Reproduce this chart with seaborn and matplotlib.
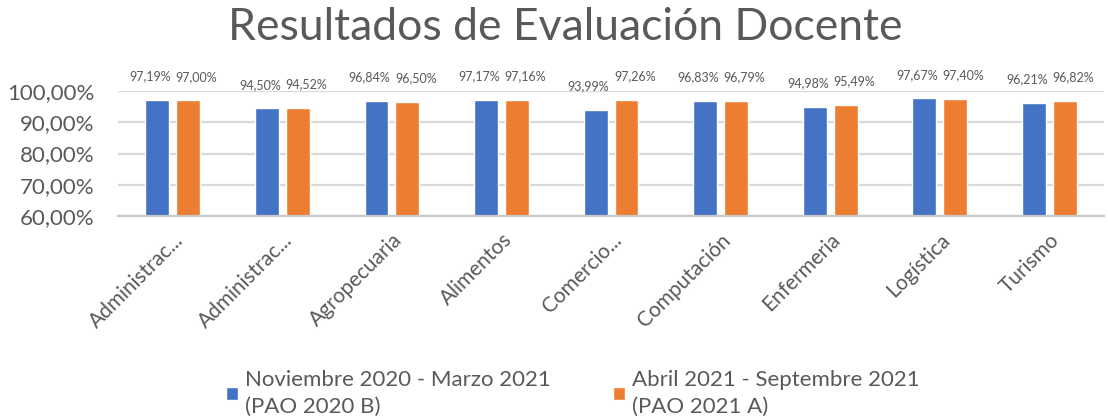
import pandas as pd
import matplotlib.pyplot as plt
import seaborn as sns
from matplotlib.ticker import FuncFormatter

# Datos
carreras = ['Administrac...', 'Administrac...', 'Agropecuaria', 'Alimentos', 'Comercio...',
            'Computación', 'Enfermeria', 'Logística', 'Turismo']
periodos = ['Noviembre 2020 - Marzo 2021\n(PAO 2020 B)',
            'Abril 2021 - Septembre 2021\n(PAO 2021 A)']
pao_2020b = [97.19, 94.50, 96.84, 97.17, 93.99, 96.83, 94.98, 97.67, 96.21]
pao_2021a = [97.00, 94.52, 96.50, 97.16, 97.26, 96.79, 95.49, 97.40, 96.82]

# las dos primeras etiquetas son iguales, asi que se usa un id por posicion
ids = [f'c{i}' for i in range(len(carreras))]
df = pd.DataFrame({
    'id': ids * 2,
    'valor': pao_2020b + pao_2021a,
    'periodo': [periodos[0]] * len(ids) + [periodos[1]] * len(ids),
})

gris = '#595959'
colores = ['#4472C4', '#ED7D31']

sns.set_style('white')
plt.rcParams['font.family'] = ['Lato', 'DejaVu Sans']

fig = plt.figure(figsize=(11.08, 4.2), dpi=100)
ax = fig.add_axes([0.1065, 0.486, 0.89, 0.297])

sns.barplot(data=df, x='id', y='valor', hue='periodo', palette=colores,
            width=0.564, gap=0.226, ax=ax, saturation=1)

ax.set_ylim(60, 100)
ax.set_yticks([60, 70, 80, 90, 100])
ax.yaxis.set_major_formatter(FuncFormatter(lambda v, p: f'{v:.2f}'.replace('.', ',') + '%'))
ax.grid(axis='y', color='#d9d9d9', linewidth=1.6)
ax.set_axisbelow(True)
for s in ['top', 'right', 'left']:
    ax.spines[s].set_visible(False)
ax.spines['bottom'].set_color('#c8c8c8')
ax.spines['bottom'].set_linewidth(1.6)

ax.tick_params(axis='y', length=0, pad=17, labelsize=16, labelcolor=gris)
ax.tick_params(axis='x', length=0, pad=10, labelsize=15, labelcolor=gris)
ax.set_xticks(range(len(carreras)))
ax.set_xticklabels(carreras, rotation=45, ha='right', rotation_mode='anchor')
ax.set_xlabel('')
ax.set_ylabel('')

# Etiquetas de valores
for k, cont in enumerate(ax.containers):
    dx = -5 if k == 0 else 6
    for bar in cont:
        h = bar.get_height()
        ax.annotate(f'{h:.2f}'.replace('.', ',') + '%',
                    (bar.get_x() + bar.get_width() / 2, h),
                    xytext=(dx, 17), textcoords='offset points',
                    ha='center', va='center', fontsize=9, color=gris)

ax.legend_.remove()
h, l = ax.get_legend_handles_labels()
leg = fig.legend(h, l, loc='center', bbox_to_anchor=(0.517, 0.064), ncol=2, frameon=False,
                 fontsize=16, labelcolor=gris, handlelength=0.55, handleheight=0.55,
                 handletextpad=0.3, columnspacing=2.8, alignment='left')
for t in leg.get_texts():
    t.set_linespacing(1.45)

fig.text(0.51, 0.935, 'Resultados de Evaluación Docente', ha='center', va='center',
         fontsize=32, color=gris)

fig.savefig('out.png', dpi=100)
